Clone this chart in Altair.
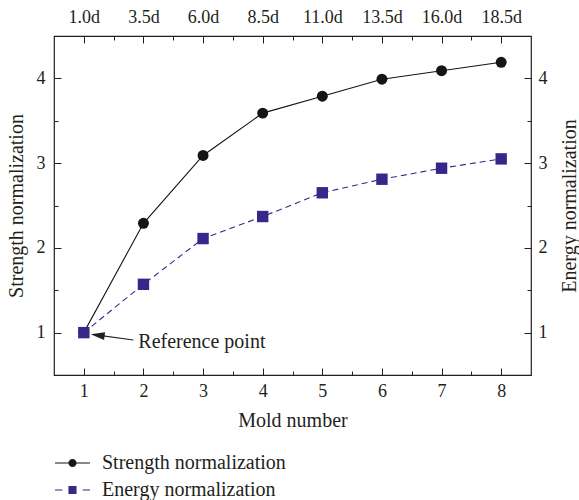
import json
import altair as alt
import pandas as pd

# ---- data ----
mold = [1, 2, 3, 4, 5, 6, 7, 8]
strength = [1.0, 2.29, 3.09, 3.59, 3.79, 3.99, 4.09, 4.19]
energy = [1.0, 1.57, 2.11, 2.37, 2.65, 2.81, 2.94, 3.05]
day_labels = ["1.0d", "3.5d", "6.0d", "8.5d", "11.0d", "13.5d", "16.0d", "18.5d"]
series_names = ["Strength normalization", "Energy normalization"]
x_minor = [1.5, 2.5, 3.5, 4.5, 5.5, 6.5, 7.5]
y_major = [1, 2, 3, 4]
y_minor = [1.5, 2.5, 3.5]

# annotation (data coordinates)
ref_text = ["Reference point"]
ref_text_x = [1.914]
ref_text_y = [0.893]
arrow_tail_x = [1.831]
arrow_tail_y = [0.913]
arrow_head_x = [1.232]
arrow_head_y = [0.970]

FONT = "Liberation Serif"
INK = "#231f20"
BLACK = "#151515"
PURPLE = "#36278a"
TICK_FS = 18
TITLE_FS = 20

df_s = pd.DataFrame({"mold": mold, "value": strength})
df_e = pd.DataFrame({"mold": mold, "value": energy})
df_txt = pd.DataFrame({"x": ref_text_x, "y": ref_text_y, "t": ref_text})
df_arrow = pd.DataFrame({"x": arrow_tail_x, "y": arrow_tail_y,
                         "x2": arrow_head_x, "y2": arrow_head_y})
df_head = pd.DataFrame({"x": arrow_head_x, "y": arrow_head_y})
df_leg = pd.DataFrame({"series": series_names})

xs = alt.Scale(domain=[0.5, 8.5], nice=False, zero=False)
ys = alt.Scale(domain=[0.5, 4.5], nice=False, zero=False)

top_expr = json.dumps(day_labels) + "[datum.value - 1]"

ax_bottom = alt.Axis(orient="bottom", values=mold, tickSize=7, offset=-7,
                     labelPadding=7, title="Mold number", titlePadding=10, format="d")
ax_bottom_minor = alt.Axis(orient="bottom", values=x_minor, tickSize=4, offset=-4,
                           labels=False, title=None)
ax_top = alt.Axis(orient="top", values=mold, tickSize=7, offset=-7,
                  labelPadding=10, labelExpr=top_expr, title=None)
ax_top_minor = alt.Axis(orient="top", values=x_minor, tickSize=4, offset=-4,
                        labels=False, title=None)
ax_left = alt.Axis(orient="left", values=y_major, tickSize=7, offset=-7,
                   labelPadding=9, title="Strength normalization", titlePadding=10,
                   titleAngle=270, format="d")
ax_left_minor = alt.Axis(orient="left", values=y_minor, tickSize=4, offset=-4,
                         labels=False, title=None)
ax_right = alt.Axis(orient="right", values=y_major, tickSize=7, offset=-7,
                    labelPadding=7, title="Energy normalization", titlePadding=12,
                    titleAngle=270, titleBaseline="top", format="d")
ax_right_minor = alt.Axis(orient="right", values=y_minor, tickSize=4, offset=-4,
                          labels=False, title=None)

line_s = alt.Chart(df_s).mark_line(color=BLACK, strokeWidth=1.1).encode(
    x=alt.X("mold:Q", scale=xs, axis=ax_bottom),
    y=alt.Y("value:Q", scale=ys, axis=ax_left),
)
line_e = alt.Chart(df_e).mark_line(color=PURPLE, strokeWidth=1.1, strokeDash=[6, 4]).encode(
    x=alt.X("mold:Q", scale=xs, axis=ax_top),
    y=alt.Y("value:Q", scale=ys, axis=ax_right),
)
pts_s = alt.Chart(df_s).mark_point(filled=True, shape="circle", size=120,
                                   color=BLACK, opacity=1).encode(
    x=alt.X("mold:Q", scale=xs, axis=ax_bottom_minor),
    y=alt.Y("value:Q", scale=ys, axis=ax_left_minor),
)
pts_e = alt.Chart(df_e).mark_point(filled=True, shape="square", size=130,
                                   color=PURPLE, opacity=1).encode(
    x=alt.X("mold:Q", scale=xs, axis=ax_top_minor),
    y=alt.Y("value:Q", scale=ys, axis=ax_right_minor),
)

arrow = alt.Chart(df_arrow).mark_rule(color=INK, strokeWidth=1.2).encode(
    x=alt.X("x:Q", scale=xs, axis=None),
    y=alt.Y("y:Q", scale=ys, axis=None),
    x2="x2:Q", y2="y2:Q",
)
head = alt.Chart(df_head).mark_point(
    filled=True, opacity=1, color=INK, size=196, angle=7.6,
    shape="M-1,0L1,-0.55L1,0.55Z").encode(
    x=alt.X("x:Q", scale=xs, axis=None),
    y=alt.Y("y:Q", scale=ys, axis=None),
)
txt = alt.Chart(df_txt).mark_text(align="left", baseline="middle", font=FONT,
                                  fontSize=TITLE_FS, color=INK).encode(
    x=alt.X("x:Q", scale=xs, axis=None),
    y=alt.Y("y:Q", scale=ys, axis=None),
    text="t:N",
)

path_s = ("M-1.3,-0.045H-0.25V0.045H-1.3Z M0.25,-0.045H1.3V0.045H0.25Z "
          "M0.3,0A0.3,0.3 0 1,1 -0.3,0A0.3,0.3 0 1,1 0.3,0Z")
path_e = ("M-1.3,-0.045H-0.75V0.045H-1.3Z M0.75,-0.045H1.3V0.045H0.75Z "
          "M-0.3,-0.3H0.3V0.3H-0.3Z")

leg = alt.Legend(title=None, orient="none", legendX=5, legendY=413.5, padding=0,
                 symbolSize=729, symbolStrokeWidth=0, symbolOpacity=1,
                 labelOffset=16, rowPadding=3, labelFont=FONT, labelFontSize=TITLE_FS,
                 labelColor=INK, labelLimit=400)
legend_layer = alt.Chart(df_leg).transform_filter("false").mark_point(
    filled=True, opacity=1).encode(
    color=alt.Color("series:N", scale=alt.Scale(domain=series_names, range=[BLACK, PURPLE]),
                    legend=leg),
    shape=alt.Shape("series:N", scale=alt.Scale(domain=series_names, range=[path_s, path_e]),
                    legend=leg),
)

chart = alt.layer(
    line_s, line_e, arrow, head, txt, pts_s, pts_e, legend_layer
).resolve_axis(x="independent", y="independent").properties(
    width=477, height=339,
    padding={"left": 54, "top": 36, "right": 48, "bottom": 125},
    autosize=alt.AutoSizeParams(type="none"),
    background="white",
).configure_view(
    stroke=INK, strokeWidth=1.2
).configure_axis(
    grid=False, domain=False, tickColor=INK, tickWidth=1,
    labelFont=FONT, labelFontSize=TICK_FS, labelColor=INK,
    titleFont=FONT, titleFontSize=TITLE_FS, titleColor=INK, titleFontWeight="normal",
)

chart.save("out.html", embed_options={"renderer": "svg", "actions": False})
